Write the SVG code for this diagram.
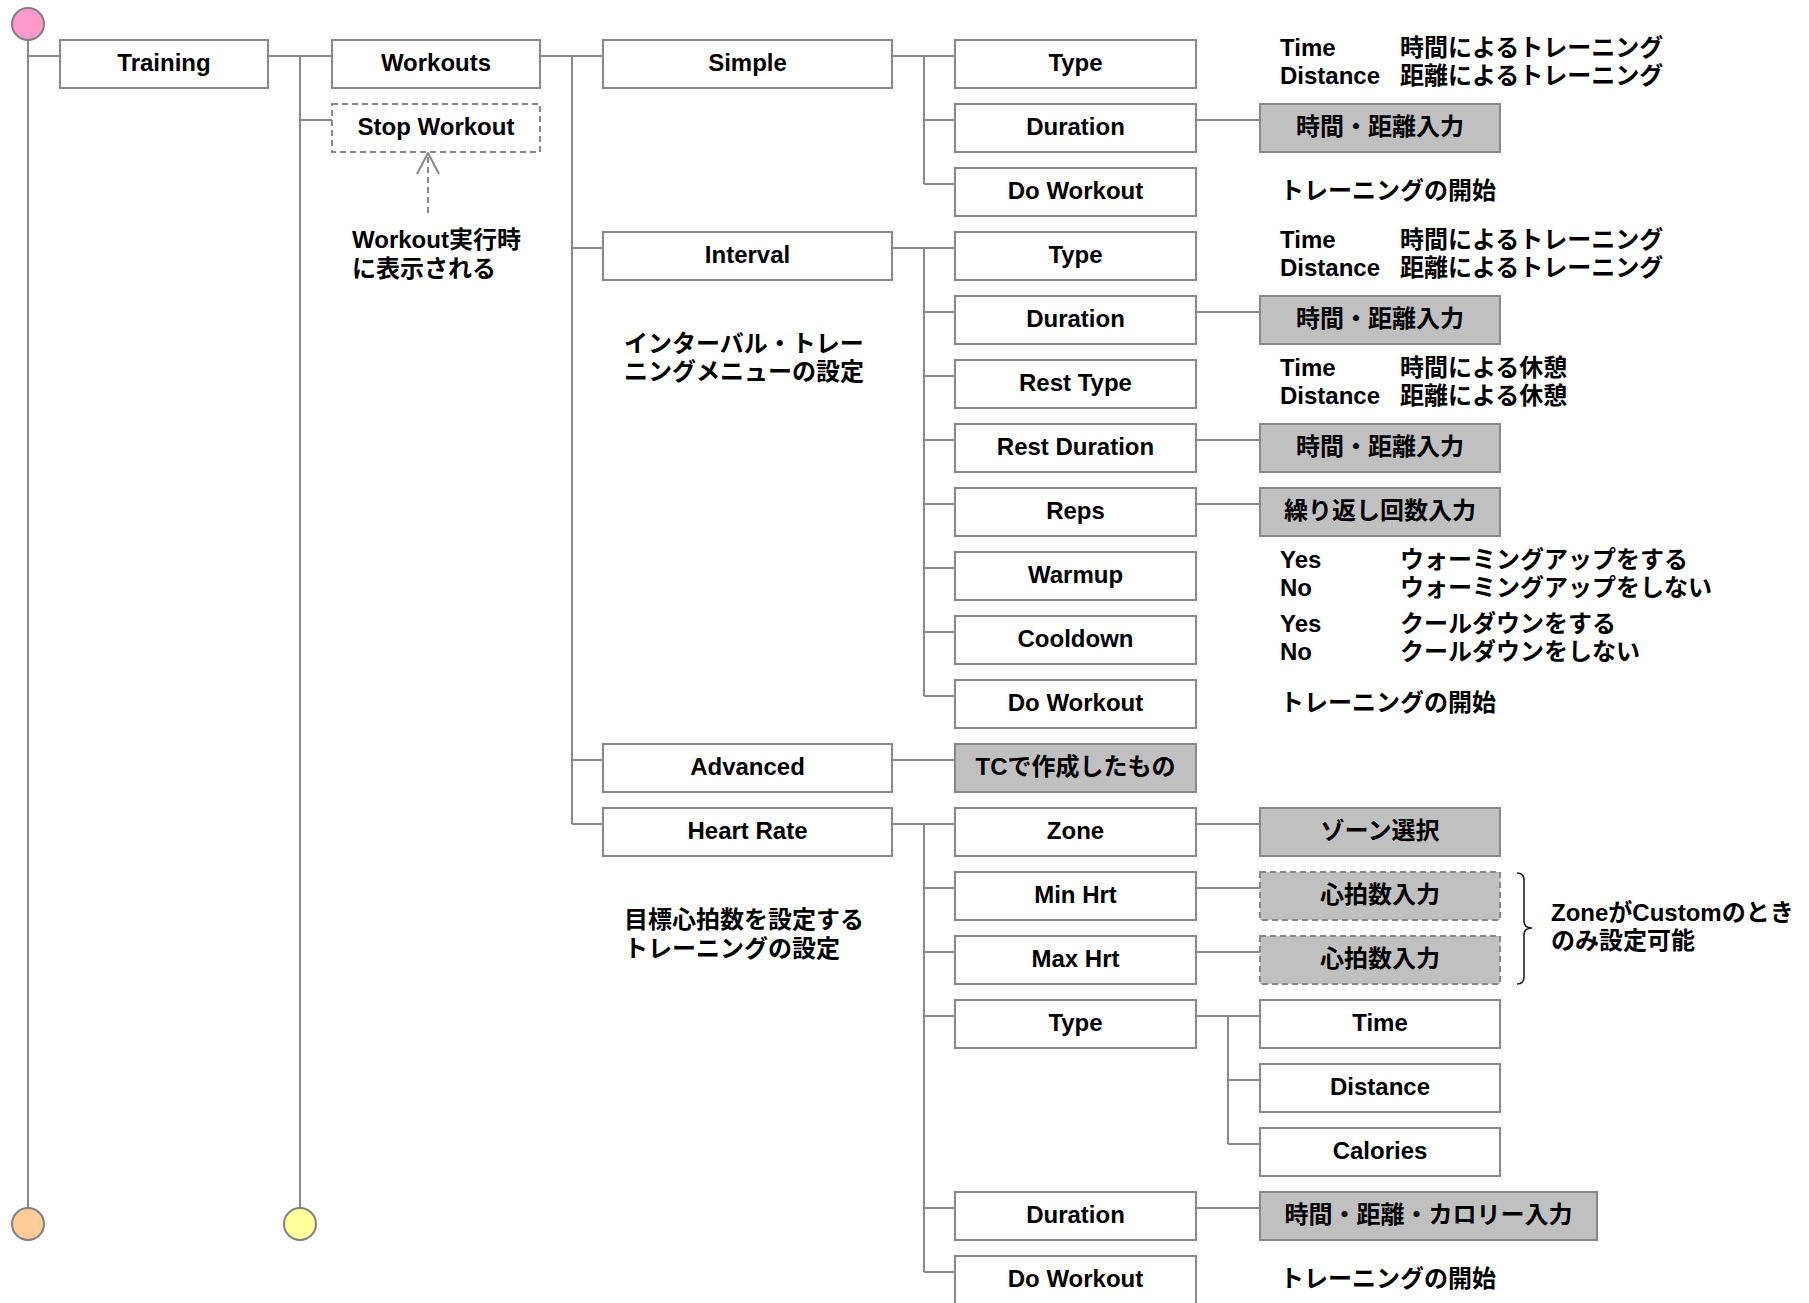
<svg xmlns="http://www.w3.org/2000/svg" width="1809" height="1303" viewBox="0 0 1809 1303">
<style>
text{font-family:"Liberation Sans","Noto Sans CJK JP",sans-serif;font-weight:bold;font-size:24px;fill:#000}
.c{text-anchor:middle}
.box{fill:#fff;stroke:#888;stroke-width:2}
.gbox{fill:#c0c0c0;stroke:#888;stroke-width:2}
.dbox{fill:#fff;stroke:#888;stroke-width:2;stroke-dasharray:6 4}
.dgbox{fill:#c0c0c0;stroke:#888;stroke-width:2;stroke-dasharray:6 4}
.ln{stroke:#888;stroke-width:2;fill:none}
.circ{stroke:#808080;stroke-width:2}
</style>
<rect width="1809" height="1303" fill="#fff"/>
<g id="connectors">
<path class="ln" d="M28,40V1208M28,56H60M268,56H332M300,56V1208M300,120H332M540,56H603M572,56V824M572,248H603M572,760H603M572,824H603"/>
<path class="ln" d="M892,56H955M924,56V184M924,120H955M924,184H955"/>
<path class="ln" d="M892,248H955M924,248V696M924,312H955M924,376H955M924,440H955M924,504H955M924,568H955M924,632H955M924,696H955"/>
<path class="ln" d="M892,760H955"/>
<path class="ln" d="M892,824H955M924,824V1272M924,888H955M924,952H955M924,1016H955M924,1208H955M924,1272H955"/>
<path class="ln" d="M1196,120H1260M1196,312H1260M1196,440H1260M1196,504H1260M1196,824H1260M1196,888H1260M1196,952H1260M1196,1016H1260M1228,1016V1144M1228,1080H1260M1228,1144H1260M1196,1208H1260"/>
<path class="ln" d="M428,213V154" stroke-dasharray="6 4"/>
<path class="ln" d="M417,174L428,153L439,174"/>
<path d="M1517,873Q1524,873 1524,880L1524,921Q1524,928 1532,928Q1524,928 1524,935L1524,977Q1524,984 1517,984" fill="none" stroke="#222" stroke-width="1.6"/>
</g>
<g id="start"><circle class="circ" cx="28" cy="24" r="16" fill="#ff99cc"/></g>
<g id="end1"><circle class="circ" cx="28" cy="1224" r="16" fill="#ffcc99"/></g>
<g id="end2"><circle class="circ" cx="300" cy="1224" r="16" fill="#ffff99"/></g>
<g id="training"><rect class="box" x="60" y="40" width="208" height="48"/><text class="c" x="164" y="71">Training</text></g>
<g id="workouts"><rect class="box" x="332" y="40" width="208" height="48"/><text class="c" x="436" y="71">Workouts</text></g>
<g id="stopworkout"><rect class="dbox" x="332" y="104" width="208" height="48"/><text class="c" x="436" y="135">Stop Workout</text></g>
<g id="note-stop"><text x="352" y="248">Workout実行時</text><text x="352" y="277">に表示される</text></g>
<g id="simple"><rect class="box" x="603" y="40" width="289" height="48"/><text class="c" x="747.5" y="71">Simple</text></g>
<g id="interval"><rect class="box" x="603" y="232" width="289" height="48"/><text class="c" x="747.5" y="263">Interval</text></g>
<g id="note-interval"><text x="624" y="352">インターバル・トレー</text><text x="624" y="380">ニングメニューの設定</text></g>
<g id="advanced"><rect class="box" x="603" y="744" width="289" height="48"/><text class="c" x="747.5" y="775">Advanced</text></g>
<g id="heartrate"><rect class="box" x="603" y="808" width="289" height="48"/><text class="c" x="747.5" y="839">Heart Rate</text></g>
<g id="note-hr"><text x="624" y="928">目標心拍数を設定する</text><text x="624" y="957">トレーニングの設定</text></g>
<g id="s-type"><rect class="box" x="955" y="40" width="241" height="48"/><text class="c" x="1075.5" y="71">Type</text></g>
<g id="s-type-note"><text x="1280" y="56">Time</text><text x="1400" y="56">時間によるトレーニング</text><text x="1280" y="84">Distance</text><text x="1400" y="84">距離によるトレーニング</text></g>
<g id="s-duration"><rect class="box" x="955" y="104" width="241" height="48"/><text class="c" x="1075.5" y="135">Duration</text></g>
<g id="s-duration-in"><rect class="gbox" x="1260" y="104" width="240" height="48"/><text class="c" x="1380" y="135">時間・距離入力</text></g>
<g id="s-do"><rect class="box" x="955" y="168" width="241" height="48"/><text class="c" x="1075.5" y="199">Do Workout</text></g>
<g id="s-do-note"><text x="1280" y="199">トレーニングの開始</text></g>
<g id="i-type"><rect class="box" x="955" y="232" width="241" height="48"/><text class="c" x="1075.5" y="263">Type</text></g>
<g id="i-type-note"><text x="1280" y="248">Time</text><text x="1400" y="248">時間によるトレーニング</text><text x="1280" y="276">Distance</text><text x="1400" y="276">距離によるトレーニング</text></g>
<g id="i-duration"><rect class="box" x="955" y="296" width="241" height="48"/><text class="c" x="1075.5" y="327">Duration</text></g>
<g id="i-duration-in"><rect class="gbox" x="1260" y="296" width="240" height="48"/><text class="c" x="1380" y="327">時間・距離入力</text></g>
<g id="i-resttype"><rect class="box" x="955" y="360" width="241" height="48"/><text class="c" x="1075.5" y="391">Rest Type</text></g>
<g id="i-resttype-note"><text x="1280" y="376">Time</text><text x="1400" y="376">時間による休憩</text><text x="1280" y="404">Distance</text><text x="1400" y="404">距離による休憩</text></g>
<g id="i-restduration"><rect class="box" x="955" y="424" width="241" height="48"/><text class="c" x="1075.5" y="455">Rest Duration</text></g>
<g id="i-restduration-in"><rect class="gbox" x="1260" y="424" width="240" height="48"/><text class="c" x="1380" y="455">時間・距離入力</text></g>
<g id="i-reps"><rect class="box" x="955" y="488" width="241" height="48"/><text class="c" x="1075.5" y="519">Reps</text></g>
<g id="i-reps-in"><rect class="gbox" x="1260" y="488" width="240" height="48"/><text class="c" x="1380" y="519">繰り返し回数入力</text></g>
<g id="i-warmup"><rect class="box" x="955" y="552" width="241" height="48"/><text class="c" x="1075.5" y="583">Warmup</text></g>
<g id="i-warmup-note"><text x="1280" y="568">Yes</text><text x="1400" y="568">ウォーミングアップをする</text><text x="1280" y="596">No</text><text x="1400" y="596">ウォーミングアップをしない</text></g>
<g id="i-cooldown"><rect class="box" x="955" y="616" width="241" height="48"/><text class="c" x="1075.5" y="647">Cooldown</text></g>
<g id="i-cooldown-note"><text x="1280" y="632">Yes</text><text x="1400" y="632">クールダウンをする</text><text x="1280" y="660">No</text><text x="1400" y="660">クールダウンをしない</text></g>
<g id="i-do"><rect class="box" x="955" y="680" width="241" height="48"/><text class="c" x="1075.5" y="711">Do Workout</text></g>
<g id="i-do-note"><text x="1280" y="711">トレーニングの開始</text></g>
<g id="a-tc"><rect class="gbox" x="955" y="744" width="241" height="48"/><text class="c" x="1075.5" y="775">TCで作成したもの</text></g>
<g id="h-zone"><rect class="box" x="955" y="808" width="241" height="48"/><text class="c" x="1075.5" y="839">Zone</text></g>
<g id="h-zone-in"><rect class="gbox" x="1260" y="808" width="240" height="48"/><text class="c" x="1380" y="839">ゾーン選択</text></g>
<g id="h-min"><rect class="box" x="955" y="872" width="241" height="48"/><text class="c" x="1075.5" y="903">Min Hrt</text></g>
<g id="h-min-in"><rect class="dgbox" x="1260" y="872" width="240" height="48"/><text class="c" x="1380" y="903">心拍数入力</text></g>
<g id="h-max"><rect class="box" x="955" y="936" width="241" height="48"/><text class="c" x="1075.5" y="967">Max Hrt</text></g>
<g id="h-max-in"><rect class="dgbox" x="1260" y="936" width="240" height="48"/><text class="c" x="1380" y="967">心拍数入力</text></g>
<g id="note-custom"><text x="1551" y="921">ZoneがCustomのとき</text><text x="1551" y="949">のみ設定可能</text></g>
<g id="h-type"><rect class="box" x="955" y="1000" width="241" height="48"/><text class="c" x="1075.5" y="1031">Type</text></g>
<g id="h-time"><rect class="box" x="1260" y="1000" width="240" height="48"/><text class="c" x="1380" y="1031">Time</text></g>
<g id="h-distance"><rect class="box" x="1260" y="1064" width="240" height="48"/><text class="c" x="1380" y="1095">Distance</text></g>
<g id="h-calories"><rect class="box" x="1260" y="1128" width="240" height="48"/><text class="c" x="1380" y="1159">Calories</text></g>
<g id="h-duration"><rect class="box" x="955" y="1192" width="241" height="48"/><text class="c" x="1075.5" y="1223">Duration</text></g>
<g id="h-duration-in"><rect class="gbox" x="1260" y="1192" width="337" height="48"/><text class="c" x="1428.5" y="1223">時間・距離・カロリー入力</text></g>
<g id="h-do"><rect class="box" x="955" y="1256" width="241" height="48"/><text class="c" x="1075.5" y="1287">Do Workout</text></g>
<g id="h-do-note"><text x="1280" y="1287">トレーニングの開始</text></g>
</svg>
